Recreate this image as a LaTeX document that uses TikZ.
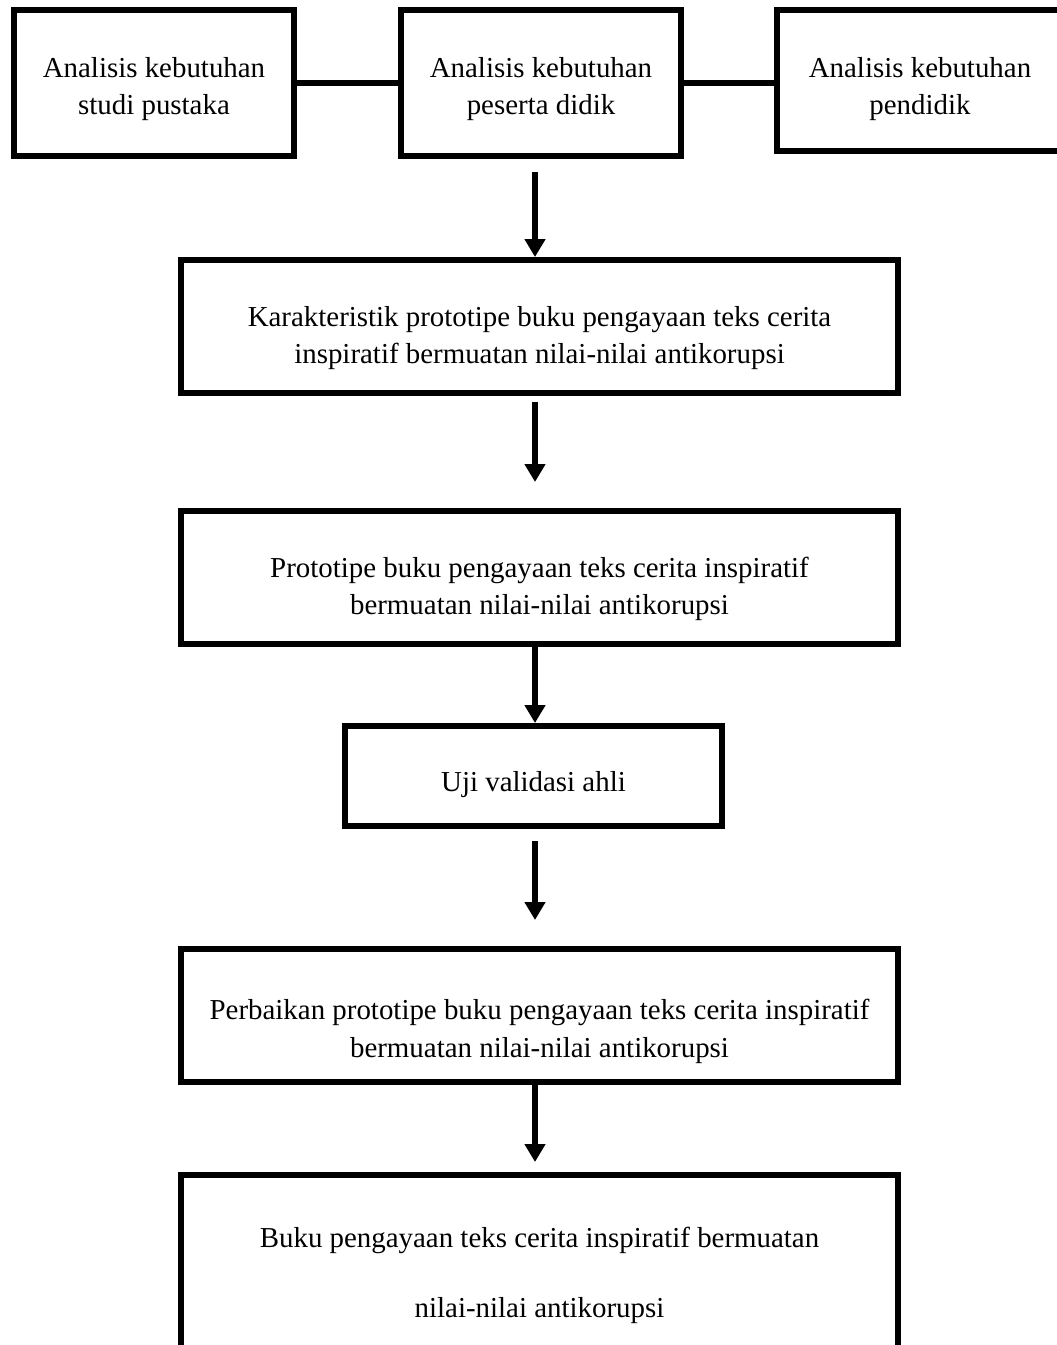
\documentclass[tikz,border=0pt]{standalone}
\usepackage{fontspec}
\setmainfont{Liberation Serif}
\usetikzlibrary{arrows.meta}

\tikzset{
  stage/.style={draw, line width=3.4pt, align=center, inner xsep=0pt,
    inner ysep=0pt, text height=2.08cm, text depth=0.58cm,
    font=\fontsize{16.45pt}{21.6pt}\selectfont},
  link/.style={line width=3.4pt},
  flow/.style={line width=3.4pt, -{Triangle[length=0.36cm,width=0.4cm]}}
}

\begin{document}
\begin{tikzpicture}[x=0.02cm,y=-0.02cm]
  \useasboundingbox (0,0) rectangle (1057,1345);

  % Analisis kebutuhan
  \node[stage, minimum width=5.6cm, text height=2.1cm, text depth=0.82cm] (studi) at (154,83)
    {Analisis kebutuhan\\studi pustaka};
  \node[stage, minimum width=5.6cm, text height=2.1cm, text depth=0.82cm] (peserta) at (541,83)
    {Analisis kebutuhan\\peserta didik};
  \node[stage, minimum width=5.72cm, text height=2.1cm, text depth=0.72cm] (pendidik) at (920,80.5)
    {Analisis kebutuhan\\pendidik};

  % Tahapan
  \node[stage, minimum width=14.34cm] (karakter) at (539.5,326.5)
    {Karakteristik prototipe buku pengayaan teks cerita\\inspiratif bermuatan nilai-nilai antikorupsi};
  \node[stage, minimum width=14.34cm] (prototipe) at (539.5,577.5)
    {Prototipe buku pengayaan teks cerita inspiratif\\bermuatan nilai-nilai antikorupsi};
  \node[stage, minimum width=7.54cm, text height=1.3cm, text depth=0.7cm] (uji) at (533.5,776)
    {Uji validasi ahli};
  \node[stage, minimum width=14.34cm, text height=2.16cm, text depth=0.5cm] (perbaikan) at (539.5,1015.5)
    {Perbaikan prototipe buku pengayaan teks cerita inspiratif\\bermuatan nilai-nilai antikorupsi};
  \node[stage, minimum width=14.34cm, text height=2.84cm, text depth=1.26cm] (buku) at (539.5,1277.5)
    {Buku pengayaan teks cerita inspiratif bermuatan\\[18.2pt]nilai-nilai antikorupsi};

  % Free ends
  \coordinate (axis) at (535,0);
  \coordinate (a1) at (535,172);
  \coordinate (a2s) at (535,402);
  \coordinate (a2e) at (535,482);
  \coordinate (a4s) at (535,841);
  \coordinate (a4e) at (535,920);
  \coordinate (a5e) at (535,1162);

  % Lines
  \draw[link] (studi) -- (peserta);
  \draw[link] (peserta.east) -- (peserta.east -| pendidik.west);

  \draw[flow] (a1) -- (karakter.north -| axis);
  \draw[flow] (a2s) -- (a2e);
  \draw[flow] (prototipe.south -| axis) -- (uji.north -| axis);
  \draw[flow] (a4s) -- (a4e);
  \draw[flow] (perbaikan.south -| axis) -- (a5e);
\end{tikzpicture}
\end{document}
